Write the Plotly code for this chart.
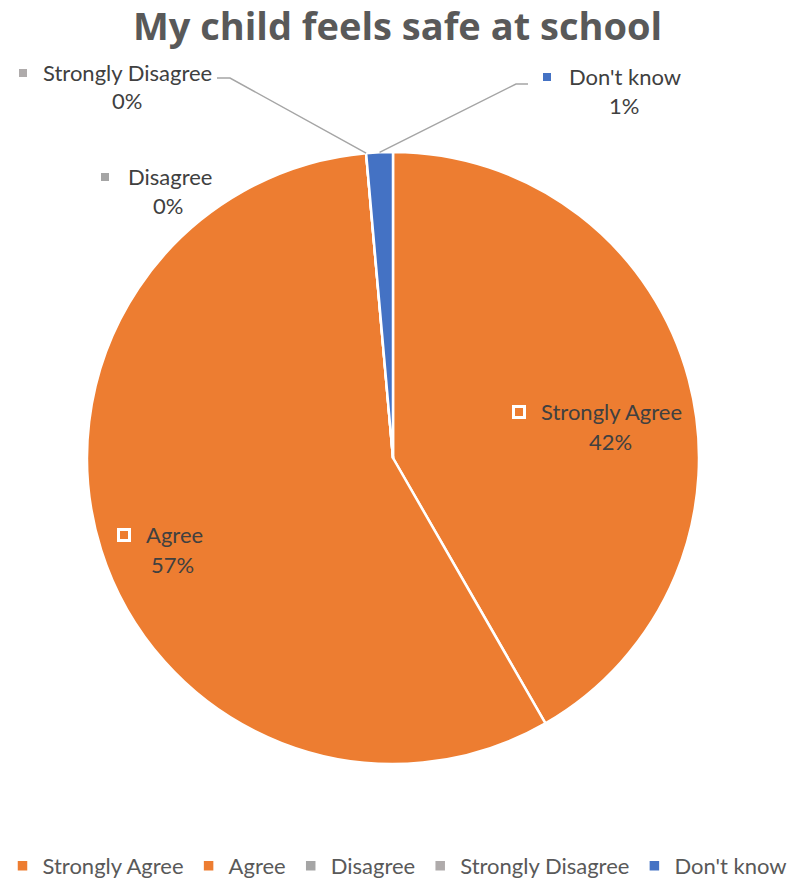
import math
import plotly.graph_objects as go

W, H = 795, 881

categories = ["Strongly Agree", "Agree", "Disagree", "Strongly Disagree", "Don't know"]
values = [41.7, 56.9, 0.0, 0.0, 1.4]
pct_labels = ["42%", "57%", "0%", "0%", "1%"]
colors = ["#ED7D31", "#ED7D31", "#A5A5A5", "#AFABAB", "#4472C4"]

FONT = "Lato"
TITLE_FONT = "Open Sans"
TEXT_COLOR = "#404040"
LABEL_SIZE = 22

# pie geometry (pixels)
CX, CY, R = 393, 458, 306


def px(x):
    return x / W


def py(y):
    return 1 - y / H


fig = go.Figure()
fig.add_trace(go.Pie(
    labels=categories,
    values=values,
    sort=False,
    direction="clockwise",
    rotation=0,
    marker=dict(colors=colors, line=dict(color="white", width=2.5)),
    textinfo="none",
    hoverinfo="label+percent",
    domain=dict(x=[px(CX - R), px(CX + R)], y=[py(CY + R), py(CY - R)]),
    showlegend=True,
))

annotations = []
shapes = []

# label placement: (name left x, name y, square x, percent center x, percent y, square style)
label_pos = {
    "Strongly Agree": (539, 411, 519, 610, 441, "hollow"),
    "Agree": (144, 534, 124, 172, 564, "hollow"),
    "Disagree": (126, 176, 105, 168, 205, "fill"),
    "Strongly Disagree": (41, 72, 23, 127, 100, "fill"),
    "Don't know": (567, 76, 547, 624, 105, "fill"),
}

for cat, pct, col in zip(categories, pct_labels, colors):
    nx, ny, sx, pcx, pcy, style = label_pos[cat]
    annotations.append(dict(x=px(nx), y=py(ny), xref="paper", yref="paper",
                            text=cat, showarrow=False, xanchor="left", yanchor="middle",
                            font=dict(family=FONT, size=LABEL_SIZE, color=TEXT_COLOR)))
    annotations.append(dict(x=px(pcx), y=py(pcy), xref="paper", yref="paper",
                            text=pct, showarrow=False, xanchor="center", yanchor="middle",
                            font=dict(family=FONT, size=LABEL_SIZE, color=TEXT_COLOR)))
    if style == "hollow":
        shapes.append(dict(type="rect", xref="paper", yref="paper",
                           x0=px(sx - 5.5), x1=px(sx + 5.5), y0=py(ny + 6.5), y1=py(ny - 4.5),
                           line=dict(color="white", width=3), fillcolor=col))
    else:
        shapes.append(dict(type="rect", xref="paper", yref="paper",
                           x0=px(sx - 4), x1=px(sx + 4), y0=py(ny + 5), y1=py(ny - 3),
                           line=dict(width=0), fillcolor=col))

# leader lines to slice mid-angles, computed from the data
total = sum(values)
cum = 0.0
mid_angle = {}
for cat, v in zip(categories, values):
    mid_angle[cat] = (cum + v / 2) / total * 2 * math.pi
    cum += v


def edge(cat):
    a = mid_angle[cat]
    return CX + R * math.sin(a), CY - R * math.cos(a)


leaders = {
    "Strongly Disagree": [(217, 78), (230, 78)],
    "Don't know": [(528, 84), (516, 84)],
}
for cat, pts in leaders.items():
    ex, ey = edge(cat)
    path_pts = pts + [(ex, ey)]
    d = "M " + " L ".join(f"{px(x)},{py(y)}" for x, y in path_pts)
    shapes.append(dict(type="path", xref="paper", yref="paper", path=d,
                       line=dict(color="#A5A5A5", width=1.5)))

fig.update_layout(
    width=W, height=H,
    margin=dict(l=0, r=0, t=0, b=0, autoexpand=False),
    paper_bgcolor="white",
    plot_bgcolor="white",
    title=dict(text="<b>My child feels safe at school</b>", x=0.5, xanchor="center",
               y=1 - 27 / H, yanchor="middle", yref="container",
               font=dict(family=TITLE_FONT, size=38, color="#595959")),
    legend=dict(orientation="h", x=0.5, xanchor="center", y=(H - 866) / H, yanchor="middle",
                yref="container",
                font=dict(family=FONT, size=LABEL_SIZE, color="#595959"), itemwidth=30,
                traceorder="normal"),
    annotations=annotations,
    shapes=shapes,
)

fig.write_html("out.html", config={"displayModeBar": False},
               post_script="document.body.style.margin='0';")
